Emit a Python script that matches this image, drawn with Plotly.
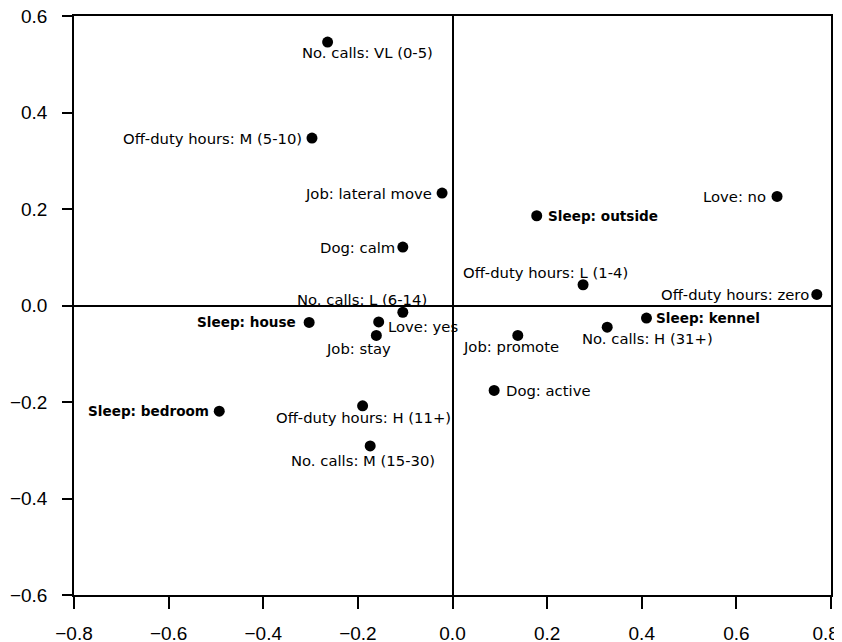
import plotly.graph_objects as go

labels = [
    "No. calls: VL (0-5)", "Off-duty hours: M (5-10)", "Job: lateral move", "Dog: calm",
    "No. calls: L (6-14)", "Love: no", "Sleep: outside", "Off-duty hours: L (1-4)",
    "Off-duty hours: zero", "Sleep: house", "Love: yes", "Job: stay", "Sleep: bedroom",
    "Off-duty hours: H (11+)", "No. calls: M (15-30)", "Sleep: kennel", "No. calls: H (31+)",
    "Job: promote", "Dog: active",
]
x_vals = [-0.264, -0.297, -0.022, -0.105, -0.105, 0.686, 0.178, 0.276, 0.770,
          -0.303, -0.156, -0.161, -0.493, -0.190, -0.174, 0.410, 0.327, 0.138, 0.088]
y_vals = [0.546, 0.347, 0.233, 0.121, -0.014, 0.226, 0.186, 0.043, 0.023,
          -0.035, -0.034, -0.062, -0.219, -0.208, -0.291, -0.026, -0.045, -0.062, -0.176]
bold = [False, False, False, False, False, False, True, False, False,
        True, False, False, True, False, False, True, False, False, False]

# label placement styling: (xanchor, xshift, yshift)
label_pos = [
    ("left", -28, -10), ("right", -8, 0), ("right", -8, 0), ("right", -6, 0),
    ("left", -108, 13), ("right", -9, 0), ("left", 9, 0), ("left", -122, 12),
    ("right", -6, 0), ("right", -11, 0), ("left", 7, -5), ("left", -52, -13),
    ("right", -8, 0), ("left", -89, -12), ("left", -81, -15), ("left", 8, 0),
    ("left", -27, -11), ("left", -57, -11), ("left", 10, 0),
]

x_ticks = [-0.8, -0.6, -0.4, -0.2, 0.0, 0.2, 0.4, 0.6, 0.8]
y_ticks = [-0.6, -0.4, -0.2, 0.0, 0.2, 0.4, 0.6]

fig = go.Figure()
fig.add_trace(go.Scatter(
    x=x_vals, y=y_vals, mode="markers",
    marker=dict(size=11, color="black"),
    hoverinfo="skip", showlegend=False,
))

for lab, xv, yv, b, (xa, xs, ys) in zip(labels, x_vals, y_vals, bold, label_pos):
    fig.add_annotation(
        x=xv, y=yv, text=f"<b>{lab}</b>" if b else lab,
        showarrow=False, xanchor=xa, yanchor="middle", xshift=xs, yshift=ys,
        font=dict(family="Dejavu Sans".replace("Dejavu", "DejaVu"), size=13.6 if b else 14.8,
                  color="black"),
    )

def tick_text(v):
    s = f"{v:.1f}"
    return s.replace("-", "\u2212")

x_text = [tick_text(v) for v in x_ticks]
# last label sits slightly inside the right edge, as in the reference
x_text[-1] = x_text[-1] + "\u00a0\u00a0"

axis_common = dict(
    showgrid=False, zeroline=True, zerolinecolor="black", zerolinewidth=1.5,
    showline=True, linecolor="black", linewidth=1.5, mirror=True,
    ticks="outside", tickwidth=1.5, tickcolor="black", automargin=False,
    ticklabeloverflow="allow",
    tickfont=dict(family="Liberation Sans", size=19, color="black"),
)

fig.update_xaxes(range=[-0.8, 0.8], tickvals=x_ticks, ticklen=12,
                 ticktext=x_text, ticklabelstandoff=8, **axis_common)
fig.update_yaxes(range=[-0.6, 0.6], tickvals=y_ticks, ticklen=10,
                 ticktext=[tick_text(v) for v in y_ticks], ticklabelstandoff=11, **axis_common)

# the page body adds an 8px offset, so margins are set to compensate
fig.update_layout(
    width=842, height=642,
    margin=dict(l=66, r=19, t=8, b=55),
    paper_bgcolor="white", plot_bgcolor="white",
)

fig.write_html("out.html")
